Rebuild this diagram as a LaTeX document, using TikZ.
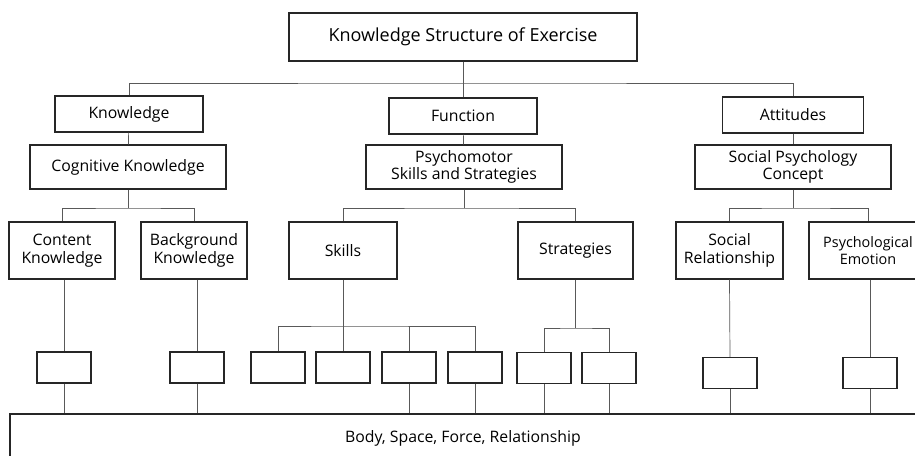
\documentclass[tikz,border=0pt]{standalone}
\usepackage{fontspec}
\setmainfont{Open Sans}

\tikzset{
  box/.style={draw=black!85,line width=1.1pt,inner sep=0pt,align=center,font=\boxfontsize},
  conn/.style={draw=black!65,line width=0.7pt}
}

\begin{document}
\begin{tikzpicture}[x=1pt,y=-1pt]
    \pgfmathsetmacro{\midrowheight}{57}
    \pgfmathsetmacro{\smallwidth}{54}
    \pgfmathsetmacro{\smallheight}{31}
    \providecommand{\titlefontsize}{\fontsize{18pt}{21pt}\selectfont}
    \providecommand{\boxfontsize}{\fontsize{15.8pt}{17.5pt}\selectfont}
    \providecommand{\narrowfontsize}{\fontsize{14.4pt}{17.5pt}\selectfont}
    \clip (0,0) rectangle (915,455);
    \fill[white] (0,0) rectangle (915,455);
    % top and first level
    \node[box,minimum width=348,minimum height=48,font=\titlefontsize] (top) at (463,37) {Knowledge Structure of Exercise};
    \node[box,minimum width=148,minimum height=36] (know) at (129,114) {Knowledge};
    \node[box,minimum width=148,minimum height=36] (func) at (463,116) {Function};
    \node[box,minimum width=141,minimum height=36] (att) at (793,115) {Attitudes};
    \node[box,minimum width=196,minimum height=44] (cog) at (128,167) {Cognitive Knowledge};
    \node[box,minimum width=196,minimum height=44] (psy) at (464,167) {Psychomotor\\Skills and Strategies};
    \node[box,minimum width=196,minimum height=44] (soc) at (793,167) {Social Psychology\\Concept};
    % second level
    \node[box,minimum width=106,minimum height=\midrowheight] (content) at (62,250.5) {Content\\Knowledge};
    \node[box,minimum width=106,minimum height=\midrowheight] (backgr) at (194,250.5) {Background\\Knowledge};
    \node[box,minimum width=108,minimum height=\midrowheight] (skills) at (343,250.5) {Skills};
    \node[box,minimum width=115,minimum height=\midrowheight] (strat) at (575.5,250.5) {Strategies};
    \node[box,minimum width=107,minimum height=\midrowheight] (socrel) at (729.5,250.5) {Social\\Relationship};
    \node[box,minimum width=118,minimum height=\midrowheight,font=\narrowfontsize] (psyemo) at (868,250.5) {Psychological\\Emotion};
    % empty boxes
    \node[box,minimum width=\smallwidth,minimum height=\smallheight] (c1) at (64,367.5) {};
    \node[box,minimum width=\smallwidth,minimum height=\smallheight] (b1) at (197,367.5) {};
    \foreach \x [count=\i] in {278,343,409,475}
        \node[box,minimum width=\smallwidth,minimum height=\smallheight] (sk\i) at (\x,367.5) {};
    \foreach \x [count=\i] in {544,609}
        \node[box,minimum width=\smallwidth,minimum height=\smallheight] (st\i) at (\x,368) {};
    \node[box,minimum width=\smallwidth,minimum height=\smallheight] (s1) at (730,373) {};
    \node[box,minimum width=\smallwidth,minimum height=\smallheight] (p1) at (870,373) {};
    % bottom
    \node[box,minimum width=906,minimum height=48] (body) at (463,438) {Body, Space, Force, Relationship};
    % connectors
    \coordinate (topbus) at (463,83);
    \coordinate (cogbus) at (128,208);
    \coordinate (psybus) at (464,208);
    \coordinate (socbus) at (793,208);
    \coordinate (skbus) at (343,326);
    \coordinate (stbus) at (575.5,328);
    \draw[conn] (top.south) -- (func.north);
    \draw[conn] (know.north) |- (topbus) -| (att.north);
    \draw[conn] (know) -- (cog);
    \draw[conn] (func) -- (psy);
    \draw[conn] (att) -- (soc);
    \draw[conn] (cog.south) -- (cogbus);
    \draw[conn] (content.north) |- (cogbus) -| (backgr.north);
    \draw[conn] (psy.south) -- (psybus);
    \draw[conn] (skills.north) |- (psybus) -| (strat.north);
    \draw[conn] (soc.south) -- (socbus);
    \draw[conn] (socrel.north) |- (socbus) -| (psyemo.north);
    \draw[conn] (skills.south) -- (sk2.north);
    \draw[conn] (sk1.north) |- (skbus) -| (sk4.north);
    \draw[conn] (sk3.north) -- (sk3.north |- skbus);
    \draw[conn] (strat.south) -- (stbus);
    \draw[conn] (st1.north) |- (stbus) -| (st2.north);
    \draw[conn] (content.south -| c1.north) -- (c1.north);
    \draw[conn] (backgr.south -| b1.north) -- (b1.north);
    \draw[conn] (socrel.south) -- (s1.north);
    \draw[conn] (psyemo.south -| p1.north) -- (p1.north);
    \foreach \n in {c1,b1,sk3,sk4,st1,st2,s1,p1}
        \draw[conn] (\n.south) -- (\n.south |- body.north);
\end{tikzpicture}
\end{document}
